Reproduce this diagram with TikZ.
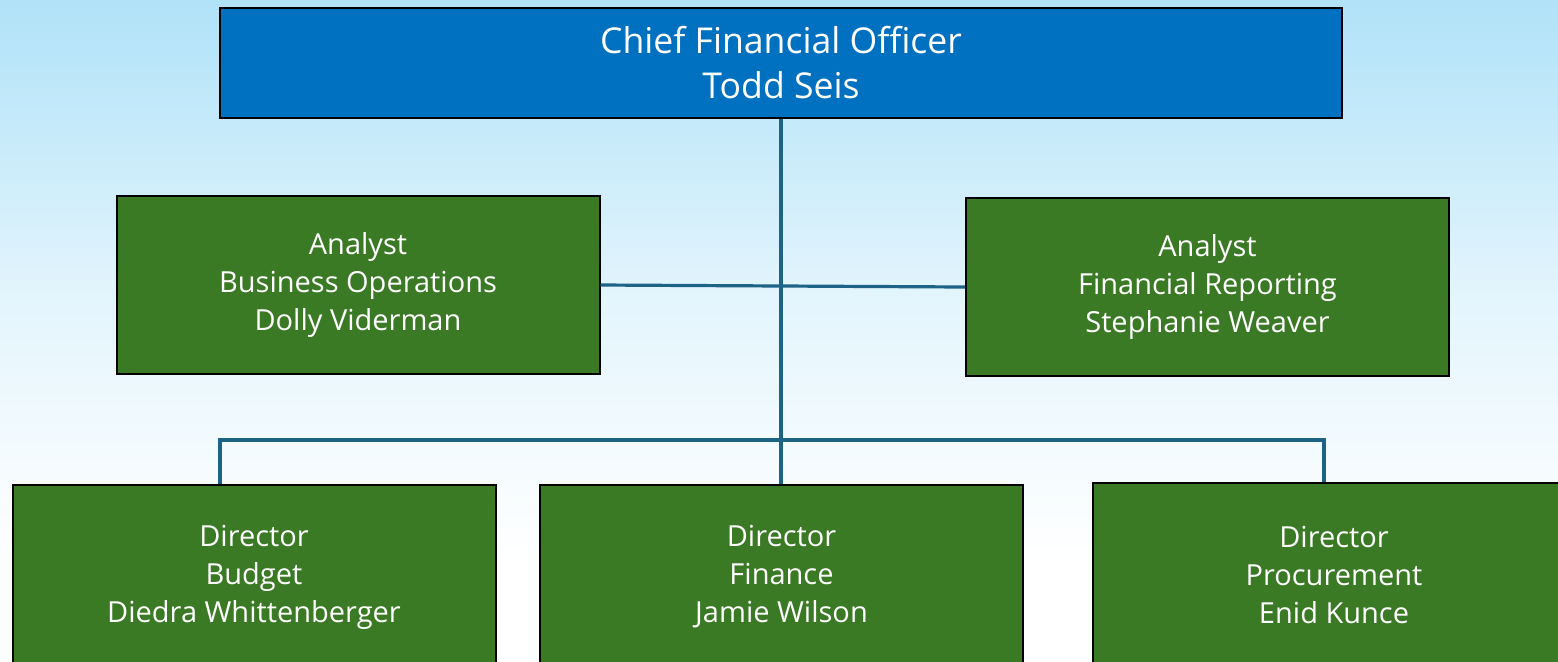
\documentclass[tikz,border=0pt]{standalone}
\usepackage{fontspec}
\setmainfont{Open Sans}
\definecolor{bgtop}{HTML}{B0E2F8}
\definecolor{bgbot}{HTML}{FFFFFF}
\definecolor{ceoblue}{HTML}{0070C0}
\definecolor{boxgreen}{HTML}{3B7A24}
\definecolor{linkblue}{HTML}{1D6387}
\tikzset{
  box/.style={draw=black, line width=1pt, fill=boxgreen, text=white, align=center, inner sep=0pt,
    font=\fontsize{14.5}{19}\selectfont, minimum width=241.5pt, minimum height=89pt},
  topbox/.style={box, fill=ceoblue, font=\fontsize{17.8}{22.5}\selectfont, minimum width=561pt, minimum height=55pt},
  lowbox/.style={box, minimum height=92pt},
  link/.style={draw=linkblue, line width=1.6pt}
}
\begin{document}
\begin{tikzpicture}[x=0.5pt,y=-0.5pt]
\useasboundingbox (0,0) rectangle (1558,661);
\clip (0,0) rectangle (1558,661);
\fill[white] (0,560) rectangle (1558,661);
\shade[top color=bgtop!35, bottom color=white] (0,300) rectangle (1558,560);
\shade[top color=bgtop, bottom color=bgtop!35] (0,0) rectangle (1558,300);
\node[topbox] (cfo) at (781,63) {Chief Financial Officer\\Todd Seis};
\node[box] (aleft) at (358,285) {Analyst\\Business Operations\\Dolly Viderman};
\node[box] (aright) at (1207.5,287) {Analyst\\Financial Reporting\\Stephanie Weaver};
\node[lowbox] (bud) at (254,577) {Director\\Budget\\Diedra Whittenberger};
\node[lowbox] (fin) at (781.5,577) {Director\\Finance\\Jamie Wilson};
\node[lowbox] (proc) at (1334,575) {Director\\Procurement\\Enid Kunce};
\coordinate (busL) at (220,440);
\coordinate (busR) at (1324,440);
\draw[link] (cfo.south) -- (cfo.south |- fin.north);
\draw[link] (aleft.east) -- (aright.west);
\draw[link] (busL |- bud.north) -- (busL) -- (busR) -- (busR |- proc.north);
\end{tikzpicture}
\end{document}
